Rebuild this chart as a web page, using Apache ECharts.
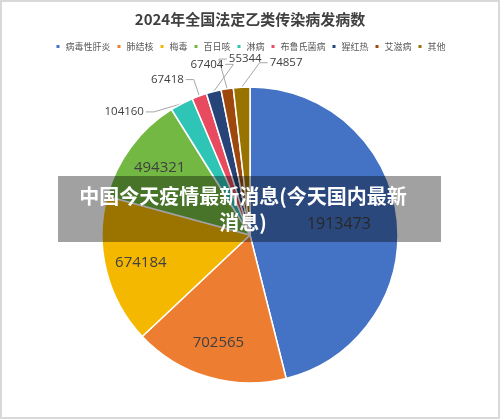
<!DOCTYPE html>
<html><head><meta charset="utf-8">
<script src="https://cdn.jsdelivr.net/npm/echarts@6/dist/echarts.min.js"></script>
<style>
html,body{margin:0;padding:0;background:#fff;}
#c{width:500px;height:419px;box-sizing:border-box;border:2px solid #d9d9d9;}
</style></head>
<body><div id="c"></div>
<script>
const titleText = '2024年全国法定乙类传染病发病数';
const categories = ['病毒性肝炎','肺结核','梅毒','百日咳','淋病','布鲁氏菌病','猩红热','艾滋病','其他'];
const values = [1913473, 702565, 674184, 494321, 104160, 67418, 67404, 55344, 74857];
const colors = ['#4472C4','#ED7D31','#F5B800','#72B843','#2EC4B6','#E84A5F','#264478','#9E480E','#997300'];
const bannerText = '中国今天疫情最新消息(今天国内最新\n消息)';

const R = 148;
const C = [248, 233];
const numFont = 'Open Sans, Liberation Sans, sans-serif';
const cjk = 'Noto Sans CJK SC, sans-serif';

// mid angles (deg, clockwise from 12 o'clock) derived from the values
const total = values.reduce((a, b) => a + b, 0);
const mids = [];
(function () { let acc = 0; values.forEach(v => { mids.push((acc + v / 2) / total * 360); acc += v; }); })();

const mainData = categories.map((n, i) => ({
  name: n, value: values[i],
  itemStyle: {color: colors[i]},
  label: {show: i >= 4},
  labelLine: {show: i >= 4}
}));
function ghost(showIdx, fontSize) {
  return categories.map((n, i) => ({
    name: n, value: values[i],
    label: {show: showIdx.indexOf(i) >= 0, fontSize: fontSize}
  }));
}
const ghostStyle = {
  type: 'pie', center: C, startAngle: 90, clockwise: true, silent: true,
  itemStyle: {color: 'rgba(0,0,0,0)', borderWidth: 0},
  label: {position: 'inside', color: '#404040', fontFamily: numFont, formatter: '{c}'},
  labelLine: {show: false},
  emphasis: {disabled: true}, tooltip: {show: false}, animation: false
};

// fan the small-slice labels out around the top of the pie (best-fit style)
function layoutSmall(params) {
  const i = params.dataIndex;
  if (i < 4) return {};
  const mid = mids[i];
  const fan = (344.2 + (mid - 345.1) * 2.37) * Math.PI / 180;
  const dist = R + 28;
  const x = C[0] + dist * Math.sin(fan);
  const y = C[1] - dist * Math.cos(fan);
  const m = mid * Math.PI / 180;
  const ex = C[0] + R * Math.sin(m), ey = C[1] - R * Math.cos(m);
  const w = params.labelRect.width;
  const leftOf = x < ex;
  const ax = leftOf ? x + w / 2 + 2 : x - w / 2 - 2;
  const bx = leftOf ? ax + 8 : ax - 8;
  return {
    x: x, y: y, align: 'center', verticalAlign: 'middle',
    labelLinePoints: [[ex, ey], [bx, y], [ax, y]]
  };
}

const chart = echarts.init(document.getElementById('c'));
chart.setOption({
  animation: false,
  title: {text: titleText, left: 'center', top: 5,
    textStyle: {fontSize: 15, fontWeight: 'bold', color: '#404040', fontFamily: cjk}},
  legend: {data: categories, top: 35, left: 'center', icon: 'rect',
    itemWidth: 5, itemHeight: 5, itemGap: 5,
    textStyle: {fontSize: 9, color: '#595959', fontFamily: cjk}},
  series: [
    {
      type: 'pie', name: 'main', center: C, radius: R, startAngle: 90, clockwise: true,
      data: mainData,
      avoidLabelOverlap: false,
      itemStyle: {borderColor: '#fff', borderWidth: 1.5},
      label: {position: 'outside', formatter: '{c}', color: '#404040', fontSize: 11.5, fontFamily: numFont},
      labelLine: {length: 12, length2: 12, lineStyle: {color: '#A6A6A6', width: 1}},
      labelLayout: layoutSmall,
      emphasis: {disabled: true}
    },
    Object.assign({}, ghostStyle, {radius: R * 1.17, data: ghost([0], 16)}),
    Object.assign({}, ghostStyle, {radius: R * 1.48, data: ghost([1, 2, 3], 15)})
  ],
  graphic: [
    {type: 'rect', z: 100, shape: {x: 56, y: 174, width: 383, height: 66},
      style: {fill: 'rgba(0,0,0,0.37)'}},
    {type: 'text', z: 101, x: 241, y: 207,
      style: {text: bannerText, fill: '#fff', font: 'bold 20px ' + cjk,
        align: 'center', verticalAlign: 'middle', lineHeight: 26}}
  ]
});
</script></body></html>
